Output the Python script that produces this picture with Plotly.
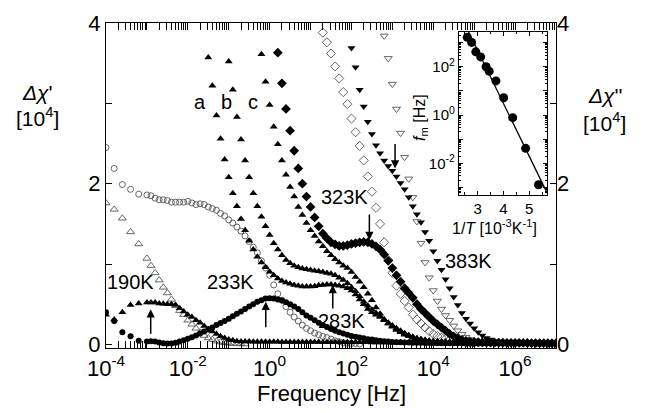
import plotly.graph_objects as go

# ---------------- data (log10 of measurement frequency grid, Hz) ----------------
LOG_F = [-4.0, -3.8, -3.6, -3.4, -3.2, -3.0, -2.9, -2.8, -2.7, -2.6, -2.5, -2.4, -2.3, -2.2, -2.1,
         -2.0, -1.9, -1.8, -1.7, -1.6, -1.5, -1.4, -1.3, -1.2, -1.1, -1.0, -0.9, -0.8, -0.7, -0.6,
         -0.5, -0.4, -0.3, -0.2, -0.1, 0.0, 0.1, 0.2, 0.3, 0.4, 0.5, 0.6, 0.7, 0.8, 0.9, 1.0,
         1.1, 1.2, 1.3, 1.4, 1.5, 1.6, 1.7, 1.8, 1.9, 2.0, 2.1, 2.2, 2.3, 2.4, 2.5, 2.6, 2.7, 2.8,
         2.9, 3.0, 3.1, 3.2, 3.3, 3.4, 3.5, 3.6, 3.7, 3.8, 3.9, 4.0, 4.1, 4.2, 4.3, 4.4, 4.5, 4.6,
         4.7, 4.8, 4.9, 5.0, 5.1, 5.2, 5.3, 5.4, 5.5, 5.6, 5.7, 5.8, 5.9, 6.0, 6.1, 6.2, 6.3, 6.4,
         6.5, 6.6, 6.7, 6.8, 6.9, 7.0]

# 190 K
re_190K_from = -4.0
re_190K = [1.76, 1.68, 1.57, 1.40, 1.25, 1.07, 0.98, 0.89, 0.80, 0.71, 0.64, 0.56, 0.48, 0.42, 0.37,
           0.30, 0.25, 0.20, 0.15, 0.11, 0.08, 0.06, 0.04, 0.03, 0.02, 0.015, 0.01, 0.01, 0.005, 0.005]
im_190K_from = -4.0
im_190K = [0.37, 0.31, 0.40, 0.49, 0.51, 0.52, 0.52, 0.52, 0.51, 0.505, 0.50, 0.50, 0.49, 0.45, 0.41,
           0.37, 0.34, 0.30, 0.27, 0.23, 0.19, 0.16, 0.13, 0.10, 0.08, 0.06, 0.05, 0.04,
           0.036, 0.035, 0.035, 0.034, 0.034, 0.033, 0.033, 0.032,
           0.032, 0.032, 0.031, 0.031, 0.030, 0.030, 0.030, 0.030, 0.029, 0.029,
           0.029, 0.029, 0.028, 0.028, 0.028, 0.028, 0.027, 0.027, 0.027, 0.027,
           0.026, 0.026, 0.026, 0.026, 0.025, 0.025, 0.025, 0.025, 0.025, 0.024,
           0.024, 0.024, 0.024, 0.024, 0.023, 0.023, 0.023, 0.023, 0.023, 0.022,
           0.022, 0.022, 0.022, 0.022, 0.021, 0.021, 0.021, 0.021, 0.021, 0.020,
           0.020, 0.020, 0.020, 0.020, 0.020, 0.019, 0.019, 0.019, 0.019, 0.019,
           0.019, 0.018, 0.018, 0.018, 0.018, 0.018, 0.018, 0.017, 0.017, 0.017]

# 233 K
re_233K_from = -4.0
re_233K = [2.45, 2.19, 1.99, 1.93, 1.87, 1.86,
           1.85, 1.82, 1.80, 1.80, 1.79, 1.77, 1.77, 1.77, 1.77, 1.78,
           1.76, 1.74, 1.75, 1.74, 1.71, 1.69, 1.67, 1.63, 1.60, 1.55,
           1.51, 1.46, 1.41, 1.35, 1.28, 1.21, 1.14, 1.04, 0.95, 0.86,
           0.74, 0.63, 0.55, 0.47, 0.40, 0.34, 0.29, 0.24, 0.20, 0.17,
           0.14, 0.12, 0.10, 0.085, 0.065, 0.045, 0.035, 0.02, 0.015, 0.01, 0.01, 0.005]
im_233K_from = -4.0
im_233K = [0.40, 0.29, 0.15, 0.10, 0.045, 0.035,
           0.04, 0.035, 0.025, 0.015, 0.01, 0.012, 0.02, 0.035, 0.05, 0.07,
           0.09, 0.11, 0.135, 0.16, 0.185, 0.21, 0.24, 0.265, 0.29, 0.32,
           0.35, 0.38, 0.41, 0.44, 0.47, 0.50, 0.53, 0.55, 0.57, 0.575,
           0.57, 0.56, 0.545, 0.525, 0.50, 0.47, 0.44, 0.40, 0.36, 0.33,
           0.30, 0.27, 0.24, 0.215, 0.19, 0.17, 0.15, 0.135, 0.12, 0.105,
           0.095, 0.085, 0.075, 0.065, 0.06, 0.05, 0.045, 0.04, 0.035, 0.03,
           0.028, 0.026, 0.024, 0.022, 0.021, 0.020, 0.019, 0.018, 0.017, 0.016,
           0.015, 0.015, 0.014, 0.014, 0.014, 0.013, 0.013, 0.013, 0.012, 0.012,
           0.012, 0.012, 0.011, 0.011, 0.011, 0.011, 0.010, 0.010, 0.010, 0.010,
           0.010, 0.010, 0.009, 0.009, 0.009, 0.009, 0.009, 0.008, 0.008, 0.008]

# curves a, b, c (283 K region)
a_from = -1.5
a_vals = [3.57, 3.22, 2.85, 2.56, 2.30, 2.08, 1.88, 1.72, 1.56, 1.42, 1.29, 1.18, 1.09, 1.02, 0.96,
          0.905, 0.86, 0.82, 0.79, 0.77, 0.755, 0.74, 0.73, 0.72, 0.72, 0.72, 0.725, 0.735, 0.74,
          0.745, 0.745, 0.74, 0.73, 0.72, 0.70, 0.67, 0.62, 0.56, 0.50, 0.44, 0.40, 0.37, 0.34,
          0.30, 0.26, 0.23, 0.19, 0.16, 0.13, 0.11, 0.09, 0.07, 0.06, 0.05, 0.04, 0.035,
          0.032, 0.030, 0.028, 0.026, 0.025, 0.024, 0.023, 0.022, 0.021, 0.020,
          0.020, 0.019, 0.019, 0.018, 0.018, 0.017, 0.017, 0.016, 0.016, 0.015,
          0.015, 0.015, 0.014, 0.014, 0.014, 0.013, 0.013, 0.013, 0.012, 0.012]
b_from = -1.0
b_vals = [3.52, 3.17, 2.83, 2.55, 2.29, 2.08, 1.88, 1.72, 1.59, 1.47, 1.36, 1.26, 1.18, 1.11, 1.05,
          1.01, 0.98, 0.96, 0.945, 0.935, 0.925, 0.915, 0.91, 0.90, 0.89, 0.88, 0.86, 0.83, 0.80,
          0.76, 0.71, 0.66, 0.60, 0.53, 0.48, 0.43, 0.39, 0.35, 0.31, 0.27, 0.235, 0.20, 0.17,
          0.14, 0.115, 0.095, 0.075, 0.065, 0.055, 0.045, 0.04,
          0.035, 0.032, 0.030, 0.028, 0.026, 0.025, 0.024, 0.023, 0.022, 0.021]
c_from = -0.2
c_vals = [3.61, 3.27, 2.98, 2.71, 2.49, 2.29, 2.11, 1.96, 1.84, 1.71, 1.61, 1.51, 1.42, 1.35, 1.28,
          1.22, 1.16, 1.11, 1.06, 1.02, 0.98, 0.95, 0.90, 0.84, 0.78, 0.71, 0.63, 0.55, 0.46, 0.38,
          0.31, 0.26, 0.22, 0.18, 0.15, 0.12, 0.10, 0.08, 0.07, 0.06, 0.05, 0.045, 0.04,
          0.037, 0.034, 0.032, 0.030, 0.028, 0.027, 0.026, 0.025, 0.024, 0.023]

# 323 K
im_323K_from = 0.2
im_323K = [3.63, 3.25, 2.93, 2.66, 2.41, 2.19, 2.00, 1.84, 1.71, 1.58, 1.47, 1.38, 1.32, 1.27, 1.245,
           1.225, 1.225, 1.235, 1.25, 1.26, 1.27, 1.275, 1.27, 1.25, 1.22, 1.18, 1.12, 1.04, 0.95,
           0.86, 0.78, 0.70, 0.64, 0.58, 0.50, 0.44, 0.39, 0.34, 0.29, 0.25, 0.21, 0.17, 0.13,
           0.10, 0.075, 0.055, 0.045, 0.035, 0.03,
           0.028, 0.026, 0.025, 0.024, 0.023, 0.022, 0.021, 0.020, 0.020, 0.019,
           0.019, 0.018, 0.018, 0.017, 0.017, 0.016, 0.016, 0.015, 0.015, 0.015]
re_323K_from = 1.3
re_323K = [3.88, 3.76, 3.62, 3.46, 3.31, 3.14, 2.99, 2.81, 2.64, 2.47, 2.29, 2.09, 1.90, 1.70, 1.50,
           1.27, 1.05, 0.89, 0.73, 0.63, 0.54, 0.46, 0.37, 0.31, 0.26, 0.21, 0.165, 0.13, 0.105,
           0.085, 0.07, 0.055, 0.045, 0.035, 0.03, 0.025, 0.02, 0.02]

# 383 K
im_383K_from = 2.0
im_383K = [3.69, 3.45, 3.17, 2.96, 2.77, 2.62, 2.48, 2.38, 2.29, 2.22, 2.16, 2.09, 2.01, 1.93, 1.83,
           1.72, 1.62, 1.52, 1.40, 1.29, 1.16, 1.04, 0.93, 0.81, 0.70, 0.59, 0.49, 0.39, 0.32, 0.26,
           0.20, 0.15, 0.11, 0.08, 0.06, 0.04, 0.03, 0.025,
           0.022, 0.020, 0.019, 0.018, 0.017, 0.016, 0.016, 0.015, 0.015, 0.014, 0.014, 0.013, 0.013]
re_383K_from = 2.8
re_383K = [3.84, 3.56, 3.24, 2.93, 2.63, 2.33, 2.06, 1.83, 1.53, 1.26, 1.02, 0.83, 0.67, 0.54, 0.44,
           0.36, 0.30, 0.23, 0.17, 0.125, 0.09, 0.06, 0.045, 0.03, 0.02, 0.015, 0.01]

# inset: relaxation frequency vs inverse temperature
inv_T = [2.60, 2.77, 2.93, 3.12, 3.33, 3.45, 3.71, 4.01, 4.36, 4.86, 5.36]
f_m = [1660, 1020, 417, 257, 100, 66, 26, 5.2, 0.78, 0.042, 0.0013]
fit_inv_T = [2.60, 5.70]
fit_f_m = [3600, 0.00057]

tick_text_x = ["10<sup>-4</sup>", "", "10<sup>-2</sup>", "", "10<sup>0</sup>", "", "10<sup>2</sup>", "",
               "10<sup>4</sup>", "", "10<sup>6</sup>", ""]
tick_text_y = ["0", "", "2", "", "4"]
inset_tick_text_y = ["", "10<sup>-2</sup>", "", "10<sup>0</sup>", "", "10<sup>2</sup>", ""]

# ---------------- figure ----------------
FONT = "Liberation Sans, Arial, Helvetica, sans-serif"


def freqs(start, vals):
    i = LOG_F.index(start)
    return [10 ** v for v in LOG_F[i:i + len(vals)]]


fig = go.Figure()

series = [
    (re_190K_from, re_190K, "triangle-up-open", 7),
    (re_233K_from, re_233K, "circle-open", 6),
    (re_323K_from, re_323K, "diamond-open", 7),
    (re_383K_from, re_383K, "triangle-down-open", 7),
    (im_190K_from, im_190K, "triangle-up", 7),
    (im_233K_from, im_233K, "circle", 6),
    (a_from, a_vals, "triangle-up", 7),
    (b_from, b_vals, "triangle-up", 7),
    (c_from, c_vals, "triangle-up", 7),
    (im_323K_from, im_323K, "diamond", 7.5),
    (im_383K_from, im_383K, "triangle-down", 7),
]
for start, vals, sym, size in series:
    is_open = sym.endswith("open")
    fig.add_trace(go.Scatter(
        x=freqs(start, vals), y=vals, mode="markers", xaxis="x", yaxis="y",
        marker=dict(symbol=sym, size=size,
                    color="#555555" if is_open else "black",
                    line=dict(width=0.9 if is_open else 0, color="#555555")),
        showlegend=False, hoverinfo="skip"))

fig.add_trace(go.Scatter(x=[], y=[], xaxis="x", yaxis="y2", showlegend=False))

# inset
fig.add_trace(go.Scatter(x=fit_inv_T, y=fit_f_m, mode="lines", xaxis="x3", yaxis="y3",
                         line=dict(color="black", width=1.3), showlegend=False))
fig.add_trace(go.Scatter(x=inv_T, y=f_m, mode="markers", xaxis="x3", yaxis="y3",
                         marker=dict(symbol="circle", size=9, color="black"), showlegend=False))

axis_common = dict(showline=True, linecolor="black", linewidth=1.2, ticks="inside",
                   tickcolor="black", tickwidth=1, showgrid=False, zeroline=False)

fig.update_layout(
    width=648, height=413,
    margin=dict(l=106, r=92, t=23, b=65),
    plot_bgcolor="white", paper_bgcolor="white",
    font=dict(family=FONT, size=22, color="black"),
    showlegend=False,
    xaxis=dict(type="log", range=[-4, 7], mirror="allticks", ticklen=7,
               tickvals=[10 ** k for k in range(-4, 8)], ticktext=tick_text_x,
               tickfont=dict(size=22),
               minor=dict(ticks="inside", ticklen=3.5, tickcolor="black", tickwidth=0.8,
                          tickvals=[m * 10 ** k for k in range(-4, 7) for m in range(2, 10)],
                          showgrid=False),
               **axis_common),
    yaxis=dict(range=[-0.045, 4.0], mirror="allticks", ticklen=6,
               tickvals=[0, 1, 2, 3, 4], ticktext=tick_text_y, tickfont=dict(size=22),
               **axis_common),
    yaxis2=dict(range=[-0.045, 4.0], overlaying="y", side="right", anchor="x",
                tickvals=[0, 2, 4], ticktext=["0", "2", "4"], ticks="", showline=False,
                showgrid=False, zeroline=False, tickfont=dict(size=22)),
    xaxis3=dict(domain=[0.7844, 0.9807], anchor="y3", range=[2.28, 5.70], mirror="allticks",
                ticklen=4, tickvals=[3, 4, 5], tickfont=dict(size=15),
                minor=dict(ticks="inside", ticklen=2.5, tickcolor="black",
                           tickvals=[2.5, 3.5, 4.5, 5.5]),
                **axis_common),
    yaxis3=dict(domain=[0.4708, 0.973], anchor="x3", type="log", range=[-3.31, 3.45],
                mirror="allticks", ticklen=4,
                tickvals=[10 ** k for k in range(-3, 4)], ticktext=inset_tick_text_y,
                tickfont=dict(size=15),
                minor=dict(ticks="inside", ticklen=2, tickcolor="black", tickwidth=0.7,
                           tickvals=[m * 10 ** k for k in range(-4, 4) for m in range(2, 10)]),
                **axis_common),
)

ann = []
# temperature labels
for txt, lx, ly in [("190K", -3.413, 0.777), ("233K", -0.968, 0.777), ("283K", 1.763, 0.29),
                    ("323K", 1.819, 1.834), ("383K", 4.851, 1.038),
                    ("a", -1.714, 3.02), ("b", -1.049, 3.02), ("c", -0.399, 3.02)]:
    ann.append(dict(x=lx, y=ly, xref="x", yref="y", text=txt, showarrow=False,
                    xanchor="center", yanchor="middle", font=dict(size=20, family=FONT)))
# peak arrows
for px, py, ay in [(-2.907, 0.437, 26), (-0.095, 0.531, 27), (1.543, 0.739, 25),
                   (2.438, 1.30, -27), (3.066, 2.19, -26)]:
    ann.append(dict(x=px, y=py, xref="x", yref="y", text="", showarrow=True, ax=0, ay=ay,
                    arrowhead=2, arrowsize=1.1, arrowwidth=1.5, arrowcolor="black", standoff=0))
# axis titles (all centred on their anchor point)
titles = [
    ("Frequency [Hz]", 0.5, -0.14, 22, 0),
    ("<i>Δχ</i>'", -0.153, 0.787, 21, 0),
    ("[10<sup>4</sup>]", -0.153, 0.711, 21, 0),
    ("<i>Δχ</i>''", 1.109, 0.778, 21, 0),
    ("[10<sup>4</sup>]", 1.107, 0.695, 21, 0),
    ("<i>f</i><sub>m</sub> [Hz]", 0.70, 0.708, 16, -90),
    ("1/<i>T</i> [10<sup>-3</sup>K<sup>-1</sup>]", 0.864, 0.372, 16, 0),
]
for txt, tx, ty, fs, ang in titles:
    ann.append(dict(x=tx, y=ty, xref="paper", yref="paper", text=txt, showarrow=False,
                    xanchor="center", yanchor="middle", textangle=ang, font=dict(size=fs)))
fig.update_layout(annotations=ann)

fig.write_html("out.html")
